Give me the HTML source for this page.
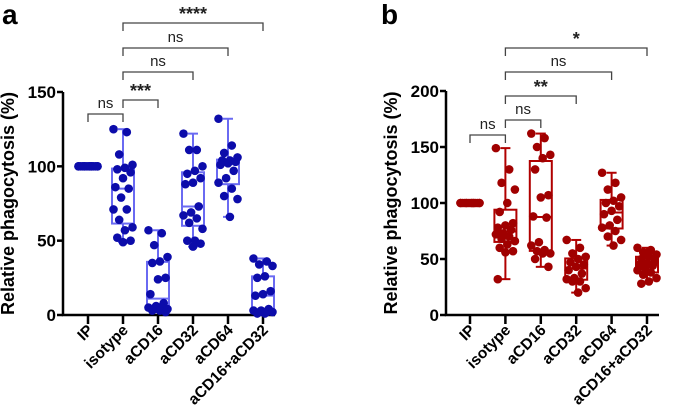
<!DOCTYPE html>
<html><head><meta charset="utf-8"><style>
html,body{margin:0;padding:0;background:#fff;}
svg{display:block;font-family:"Liberation Sans",Arial,sans-serif;}
</style></head><body>
<svg id="chart" width="673" height="420" viewBox="0 0 673 420"></svg>
<script>
const categories=["IP","isotype","aCD16","aCD32","aCD64","aCD16+aCD32"];
const seriesA=[
[100,100,100,100,100,100,100,100,100,100,100,100,100,100,100,100],
[125,123,108,101,99,98,96,92,86,85,79,71,71,64,59,57,52,50,49],
[57,55,47,39,36,35,25,24,14,8,6,5,5,4,4,3,3,2],
[122,111,111,100,97,95,92,89,88,73,69,67,65,62,58,50,50,48,46],
[132,114,109,106,104,104,103,102,101,97,92,89,85,80,78,66],
[38,36,34,33,26,25,16,14,13,4,3,3,2,2,2,1,1]];
const seriesB=[
[100,100,100,100,100,100,100,100,100,100,100,100,100,100,100,100],
[149,130,118,112,100,92,82,80,78,76,73,72,70,68,66,63,60,57,56,32],
[162,158,150,143,140,130,107,105,88,87,65,62,58,57,55,55,50,43],
[67,60,55,52,50,47,45,43,40,37,33,32,30,30,24,20],
[127,118,112,105,102,100,97,93,90,85,80,78,75,70,67,62],
[60,58,56,54,52,50,48,46,45,44,42,40,38,36,33,30,28]];
const ticksA=[0,50,100,150];
const ticksB=[0,50,100,150,200];
const sigA=[["ns",0,1],["***",1,2],["ns",1,3],["ns",1,4],["****",1,5]];
const sigB=[["ns",0,1],["ns",1,2],["**",1,3],["ns",1,4],["*",1,5]];

const NS="http://www.w3.org/2000/svg";
const svg=document.getElementById('chart');
function mk(tag,attrs,parent){const e=document.createElementNS(NS,tag);for(const k in attrs)e.setAttribute(k,attrs[k]);(parent||svg).appendChild(e);return e;}
function q(s,p){const a=[...s].sort((x,y)=>x-y);const i=(a.length-1)*p;const l=Math.floor(i);return a[l]+(a[Math.min(l+1,a.length-1)]-a[l])*(i-l);}

function panel(cfg){
 const g=mk('g',{});
 
 
 const y=v=>cfg.y0-(v/cfg.ymax)*(cfg.y0-cfg.ytop);
 const x=i=>cfg.x0+i*cfg.dx;
 const letter=mk('text',{x:cfg.lx,y:24,'font-size':28,'font-weight':'bold'},g);letter.textContent=cfg.letter;
 
 
 const ax=mk('path',{d:`M${cfg.ax} ${y(cfg.ymax)} V${cfg.y0} H${x(5)+12}`,stroke:'#000','stroke-width':2.5,fill:'none'},g);
 
 
 cfg.ticks.forEach(t=>{
  mk('line',{x1:cfg.ax-6,x2:cfg.ax,y1:y(t),y2:y(t),stroke:'#000','stroke-width':2.5},g);
  const tl=mk('text',{x:cfg.ax-7,y:y(t)+6,'font-size':17,'font-weight':'bold','text-anchor':'end'},g);tl.textContent=t;
  
  
 });
 const yt=mk('text',{transform:`translate(${cfg.ax-49},${(cfg.y0+cfg.ytop)/2}) rotate(-90)`,'font-size':18,'font-weight':'bold','text-anchor':'middle'},g);
 yt.textContent='Relative phagocytosis (%)';
 
 
 categories.forEach((c,i)=>{
  mk('line',{x1:x(i),x2:x(i),y1:cfg.y0,y2:cfg.y0+9,stroke:'#000','stroke-width':2.5},g);
  const t=mk('text',{transform:`translate(${x(i)+6},${cfg.y0+16}) rotate(-45)`,'font-size':15.5,'font-weight':'bold','text-anchor':'end'},g);
  t.textContent=c;
  
  
 });
 cfg.data.forEach((s,i)=>{
  const cx=x(i);
  const lo=Math.min(...s),hi=Math.max(...s),q1=q(s,0.25),md=q(s,0.5),q3=q(s,0.75);
  if(hi>lo){
   const bx=mk('g',{stroke:cfg.box,'stroke-width':2,fill:'none'},g);
   
   
   mk('line',{x1:cx,x2:cx,y1:y(hi),y2:y(q3)},bx);
   mk('line',{x1:cx,x2:cx,y1:y(q1),y2:y(lo)},bx);
   mk('line',{x1:cx-5,x2:cx+5,y1:y(hi),y2:y(hi)},bx);
   mk('line',{x1:cx-5,x2:cx+5,y1:y(lo),y2:y(lo)},bx);
   mk('rect',{x:cx-11,y:y(q3),width:22,height:y(q1)-y(q3)},bx);
   mk('line',{x1:cx-11,x2:cx+11,y1:y(md),y2:y(md)},bx);
  }
  s.forEach((v,j)=>{
   const off=((j*7)%11-5)*1.9;
   const d=mk('circle',{cx:cx+off,cy:y(v),r:4.3,fill:cfg.dot},g);
   
   
  });
 });
 cfg.sig.forEach((s,k)=>{
  const by=cfg.by[k],x1=x(s[1]),x2=x(s[2]);
  const br=mk('path',{d:`M${x1} ${by+8} V${by} H${x2} V${by+8}`,stroke:'#444','stroke-width':1.3,fill:'none'},g);
  
  
  const star=s[0]!=='ns';
  const t=mk('text',{x:(x1+x2)/2,y:star?by-3:by-6,'font-size':star?18:15,'font-weight':star?'bold':'normal','text-anchor':'middle',fill:'#222'},g);
  t.textContent=s[0];
  
  
 });
}
panel({name:'panel-a',letter:'a',lx:2,ax:63,x0:88,dx:35,y0:315,ytop:92,ymax:150,ticks:ticksA,data:seriesA,sig:sigA,by:[114,100,72,48,23],dot:'#0c0caa',box:'#6a6af2'});
panel({name:'panel-b',letter:'b',lx:381,ax:446,x0:470,dx:35.4,y0:315,ytop:91,ymax:200,ticks:ticksB,data:seriesB,sig:sigB,by:[135,120,96,72,48],dot:'#a00000',box:'#b00000'});
</script>
</body></html>
